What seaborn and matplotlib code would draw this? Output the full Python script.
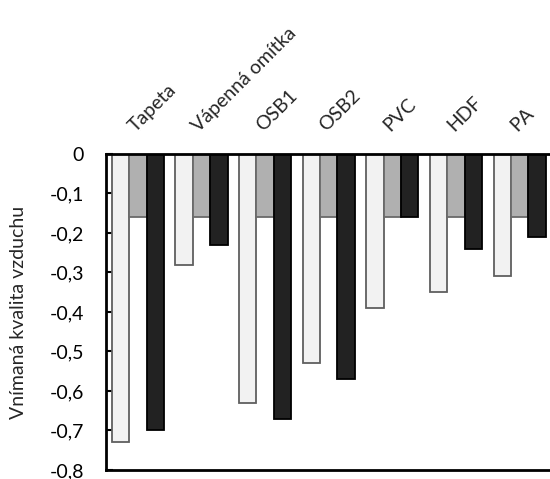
# bar chart: perceived air quality per material, three series
import matplotlib
matplotlib.use("Agg")
import matplotlib.pyplot as plt
import seaborn as sns
import pandas as pd
from matplotlib.ticker import FuncFormatter

# %% data
materials = ["Tapeta", "Vápenná omítka", "OSB1", "OSB2", "PVC", "HDF", "PA"]
series_names = ["řada 1", "řada 2", "řada 3"]
values_light = [-0.73, -0.28, -0.63, -0.53, -0.39, -0.35, -0.31]
values_gray = [-0.16, -0.16, -0.16, -0.16, -0.16, -0.16, -0.16]
values_dark = [-0.70, -0.23, -0.67, -0.57, -0.16, -0.24, -0.21]

df = pd.DataFrame({
    "material": materials * 3,
    "series": [s for s in series_names for _ in materials],
    "value": values_light + values_gray + values_dark,
})

# %% style
sns.set_style("white")
plt.rcParams["font.family"] = ["Lato", "DejaVu Sans"]
fs = 14

fill_colors = ["#f2f2f2", "#b0b0b0", "#222222"]
edge_colors = ["#5f5f5f", "#6a6a6a", "#000000"]

fig = plt.figure(figsize=(5.5, 4.79), dpi=100)
ax = fig.add_axes([0.1927, 0.0188, 0.81, 0.6597])

sns.barplot(data=df, x="material", y="value", hue="series",
            palette=fill_colors, width=0.82, legend=False, ax=ax)

for cont, ec in zip(ax.containers, edge_colors):
    for bar in cont:
        bar.set_edgecolor(ec)
        bar.set_linewidth(1.3)

ax.set_ylim(-0.8, 0)
ax.set_yticks([0, -0.1, -0.2, -0.3, -0.4, -0.5, -0.6, -0.7, -0.8])
ax.yaxis.set_major_formatter(FuncFormatter(
    lambda v, _: "0" if abs(v) < 1e-9 else f"{v:.1f}".replace(".", ",")))
ax.tick_params(axis="y", direction="in", length=5, width=1.5, labelsize=fs,
               pad=16, left=True, colors="black")

ax.xaxis.tick_top()
ax.tick_params(axis="x", length=0, pad=14, labelsize=fs)
ax.set_xticks(range(len(materials)))
ax.set_xticklabels(materials, rotation=45, ha="left", va="bottom",
                   rotation_mode="anchor")
ax.set_xlabel("")
ax.set_ylabel("Vnímaná kvalita vzduchu", fontsize=fs, labelpad=16)

for side in ["top", "left", "bottom", "right"]:
    ax.spines[side].set_color("black")
    ax.spines[side].set_linewidth(2)

fig.savefig("out.png", dpi=100)
plt.close("all")
